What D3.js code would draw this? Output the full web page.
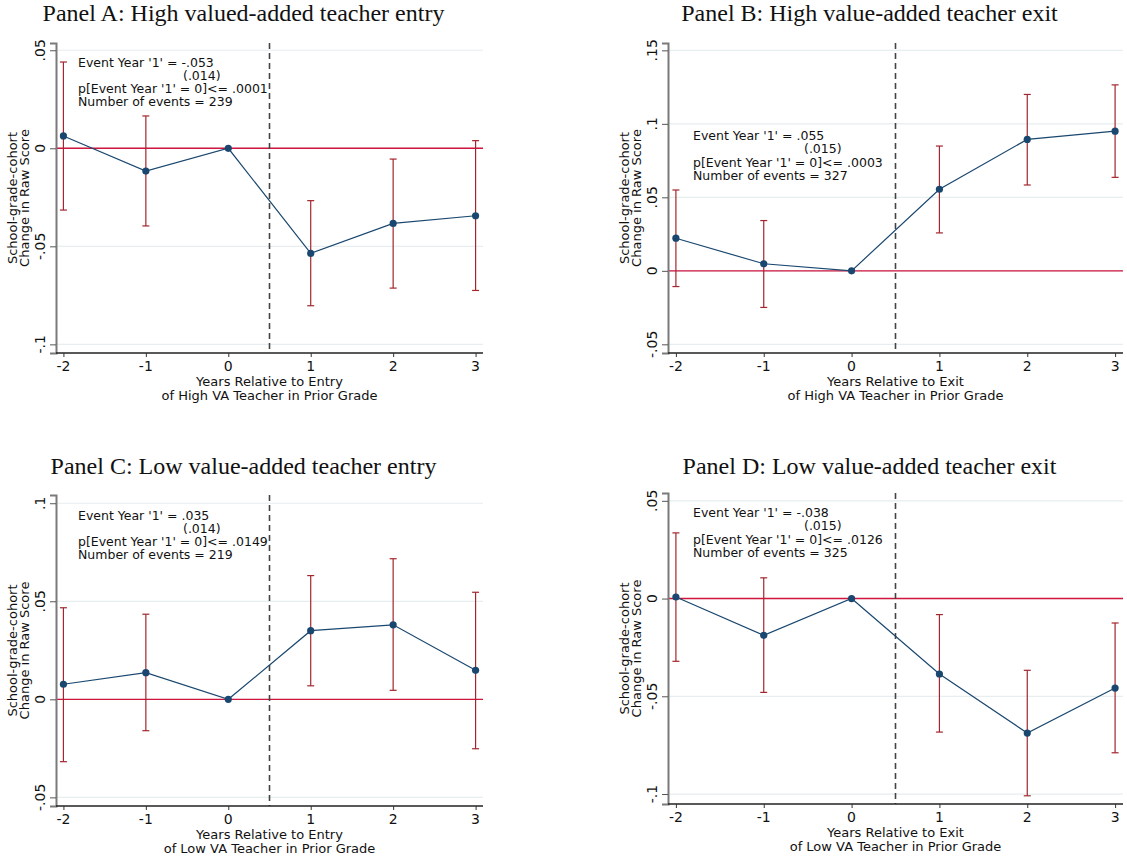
<!DOCTYPE html>
<html>
<head>
<meta charset="utf-8">
<script src="https://cdn.jsdelivr.net/npm/d3@7"></script>
<style>
  body { margin: 0; background: #fff; }
  svg { display: block; }
  .title { font-family: "Liberation Serif", "DejaVu Serif", serif; font-size: 24px; fill: #111; }
  .lbl { font-family: "DejaVu Sans", sans-serif; fill: #111; }
</style>
</head>
<body>
<svg id="chart" width="1127" height="859"></svg>
<script>
const YEARS = [-2, -1, 0, 1, 2, 3];

const TITLES = [
  "Panel A: High valued-added teacher entry",
  "Panel B: High value-added teacher exit",
  "Panel C: Low value-added teacher entry",
  "Panel D: Low value-added teacher exit"
];

const X_TITLES = [
  ["Years Relative to Entry", "of High VA Teacher in Prior Grade"],
  ["Years Relative to Exit", "of High VA Teacher in Prior Grade"],
  ["Years Relative to Entry", "of Low VA Teacher in Prior Grade"],
  ["Years Relative to Exit", "of Low VA Teacher in Prior Grade"]
];

// point estimates, lower and upper CI bounds
const ESTIMATES = [
  [0.0063, -0.0116, 0, -0.0536, -0.0383, -0.0344],
  [0.0222, 0.0048, 0, 0.0555, 0.0894, 0.0950],
  [0.0077, 0.0136, 0, 0.0350, 0.0380, 0.0148],
  [0.0008, -0.0188, 0, -0.0386, -0.0688, -0.0458]
];
const LOWER = [
  [-0.0315, -0.0396, null, -0.0803, -0.0713, -0.0725],
  [-0.0107, -0.0249, null, 0.0258, 0.0584, 0.0636],
  [-0.0318, -0.0160, null, 0.0069, 0.0046, -0.0252],
  [-0.0321, -0.0480, null, -0.0683, -0.1009, -0.0789]
];
const UPPER = [
  [0.0440, 0.0165, null, -0.0267, -0.0055, 0.0039],
  [0.0550, 0.0342, null, 0.0849, 0.1200, 0.1265],
  [0.0467, 0.0434, null, 0.0631, 0.0717, 0.0546],
  [0.0336, 0.0106, null, -0.0082, -0.0367, -0.0125]
];

const Y_TICKS = [
  [0.05, 0, -0.05, -0.1],
  [0.15, 0.1, 0.05, 0, -0.05],
  [0.1, 0.05, 0, -0.05],
  [0.05, 0, -0.05, -0.1]
];

const COEFS = ["-.053", ".055", ".035", "-.038"];
const SES = ["(.014)", "(.015)", "(.014)", "(.015)"];
const PVALS = [".0001", ".0003", ".0149", ".0126"];
const N_EVENTS = [239, 327, 219, 325];

// layout of the four panels (pixels) and y ranges
const PANELS = [
  { left: 56, right: 483, top: 43, bottom: 353, ymin: -0.1044, ymax: 0.0537, titleY: 21, textX: 78, textY: 66.5, seX: 183 },
  { left: 668, right: 1123, top: 43, bottom: 353, ymin: -0.0559, ymax: 0.155, titleY: 21, textX: 693, textY: 140, seX: 804 },
  { left: 56, right: 483, top: 495, bottom: 806, ymin: -0.0544, ymax: 0.1042, titleY: 474, textX: 78, textY: 519.5, seX: 183 },
  { left: 668, right: 1123, top: 493, bottom: 804, ymin: -0.1051, ymax: 0.054, titleY: 474, textX: 693, textY: 517, seX: 804 }
];

const NAVY = "#1a476f";
const RED_CI = "#a3262d";
const RED_ZERO = "#d0153f";

const svg = d3.select("#chart");

function fmt(v) {
  if (v === 0) return "0";
  return String(+v.toFixed(3)).replace("0.", ".");
}

PANELS.forEach((p, i) => {
  const x = d3.scaleLinear().domain([-2.09, 3.09]).range([p.left, p.right]);
  const y = d3.scaleLinear().domain([p.ymin, p.ymax]).range([p.bottom, p.top]);
  const g = svg.append("g");

  g.append("text")
    .attr("class", "title")
    .attr("x", (p.left + p.right) / 2 - 26)
    .attr("y", p.titleY)
    .attr("text-anchor", "middle")
    .text(TITLES[i]);

  // grid lines
  g.selectAll("line.grid")
    .data(Y_TICKS[i])
    .join("line")
    .attr("class", "grid")
    .attr("x1", p.left).attr("x2", p.right)
    .attr("y1", d => y(d)).attr("y2", d => y(d))
    .attr("stroke", "#e6eef0")
    .attr("stroke-width", 1.2);

  // zero line
  g.append("line")
    .attr("x1", p.left).attr("x2", p.right)
    .attr("y1", y(0)).attr("y2", y(0))
    .attr("stroke", RED_ZERO)
    .attr("stroke-width", 1.4);

  // event line
  g.append("line")
    .attr("x1", x(0.5)).attr("x2", x(0.5))
    .attr("y1", p.top).attr("y2", p.bottom)
    .attr("stroke", "#444")
    .attr("stroke-width", 1.6)
    .attr("stroke-dasharray", "6,4");

  // y axis
  const yAxis = g.append("g")
    .attr("transform", `translate(${p.left},0)`)
    .call(d3.axisLeft(y).tickValues(Y_TICKS[i]).tickSize(6).tickFormat(() => ""));
  yAxis.select(".domain").attr("stroke", "#7a7a7a").attr("stroke-width", 2);
  yAxis.selectAll(".tick line").attr("stroke", "#555");

  g.selectAll("text.ytick")
    .data(Y_TICKS[i])
    .join("text")
    .attr("class", "lbl ytick")
    .attr("font-size", 14)
    .attr("text-anchor", "middle")
    .attr("transform", d => `translate(${p.left - 11},${y(d)}) rotate(-90)`)
    .text(fmt);

  // x axis
  const xAxis = g.append("g")
    .attr("transform", `translate(0,${p.bottom})`)
    .call(d3.axisBottom(x).tickValues(YEARS).tickSize(4).tickFormat(() => ""));
  xAxis.select(".domain").attr("stroke", "#222").attr("stroke-width", 1.6)
    .attr("d", `M${p.left},0H${p.right}`);
  xAxis.selectAll(".tick line").attr("stroke", "#333");

  g.selectAll("text.xtick")
    .data(YEARS)
    .join("text")
    .attr("class", "lbl xtick")
    .attr("font-size", 14)
    .attr("text-anchor", "middle")
    .attr("x", d => x(d))
    .attr("y", p.bottom + 18)
    .text(d => d);

  X_TITLES[i].forEach((t, k) => {
    g.append("text")
      .attr("class", "lbl")
      .attr("font-size", 13)
      .attr("text-anchor", "middle")
      .attr("x", (p.left + p.right) / 2)
      .attr("y", p.bottom + 33 + k * 14)
      .text(t);
  });

  ["School-grade-cohort", "Change in Raw Score"].forEach((t, k) => {
    g.append("text")
      .attr("class", "lbl")
      .attr("font-size", 13)
      .attr("text-anchor", "middle")
      .attr("transform", `translate(${p.left - 39 + k * 12},${(p.top + p.bottom) / 2}) rotate(-90)`)
      .text(t);
  });

  // confidence intervals
  const ci = YEARS.map((yr, j) => ({ yr, lo: LOWER[i][j], hi: UPPER[i][j] })).filter(d => d.lo !== null);
  g.selectAll("line.ci")
    .data(ci)
    .join("line")
    .attr("class", "ci")
    .attr("x1", d => x(d.yr)).attr("x2", d => x(d.yr))
    .attr("y1", d => y(d.lo)).attr("y2", d => y(d.hi))
    .attr("stroke", RED_CI).attr("stroke-width", 1.2);
  ["lo", "hi"].forEach(k => {
    g.selectAll(`line.cap-${k}`)
      .data(ci)
      .join("line")
      .attr("class", `cap-${k}`)
      .attr("x1", d => x(d.yr) - 3.5).attr("x2", d => x(d.yr) + 3.5)
      .attr("y1", d => y(d[k])).attr("y2", d => y(d[k]))
      .attr("stroke", RED_CI).attr("stroke-width", 1.2);
  });

  // estimates
  const pts = YEARS.map((yr, j) => ({ yr, v: ESTIMATES[i][j] }));
  g.append("path")
    .datum(pts)
    .attr("fill", "none")
    .attr("stroke", NAVY)
    .attr("stroke-width", 1.2)
    .attr("d", d3.line().x(d => x(d.yr)).y(d => y(d.v)));
  g.selectAll("circle.pt")
    .data(pts)
    .join("circle")
    .attr("class", "pt")
    .attr("cx", d => x(d.yr)).attr("cy", d => y(d.v))
    .attr("r", 3.6)
    .attr("fill", NAVY);

  // annotation
  const lines = [
    [p.textX, `Event Year '1' = ${COEFS[i]}`],
    [p.seX, SES[i]],
    [p.textX, `p[Event Year '1' = 0]<= ${PVALS[i]}`],
    [p.textX, `Number of events = ${N_EVENTS[i]}`]
  ];
  lines.forEach(([tx, t], k) => {
    g.append("text")
      .attr("class", "lbl")
      .attr("font-size", 12.5)
      .attr("x", tx)
      .attr("y", p.textY + k * 13.3)
      .text(t);
  });
});
</script>
</body>
</html>
